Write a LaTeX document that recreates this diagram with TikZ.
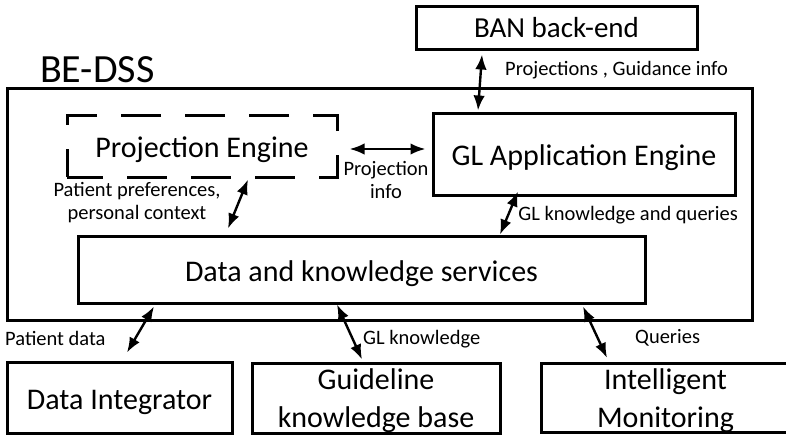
\documentclass[tikz,border=0pt]{standalone}
\usepackage{fontspec}
\setmainfont{Carlito}
\usetikzlibrary{arrows.meta,calc}
\begin{document}
\begin{tikzpicture}[x=1pt,y=-1pt,
  box/.style={draw,line width=3pt,inner sep=0pt,align=center,font=\fontsize{30}{37}\selectfont,text height=23pt,text depth=0pt},
  twobox/.style={draw,line width=3pt,inner sep=0pt,align=center,font=\fontsize{30}{38}\selectfont},
  lbl/.style={inner sep=0pt,align=center,font=\fontsize{20.5}{23}\selectfont},
  biarrow/.style={line width=2.4pt,{Latex[length=15pt,width=11.5pt]}-{Latex[length=15pt,width=11.5pt]}}
]
\useasboundingbox (0,0) rectangle (786,434);
\node[box,minimum width=281pt,minimum height=43pt,font=\fontsize{29}{34}\selectfont,text height=19pt] (ban) at (556.5,27.5) {BAN back-end};
\node[anchor=base west,inner sep=0pt,font=\fontsize{40}{48}\selectfont] (title) at (40,82) {BE-DSS};
\node[box,minimum width=745pt,minimum height=232pt] (bedss) at (379.5,204) {};
\node[box,dash pattern=on 40pt off 24pt,dash phase=4pt,minimum width=270pt,minimum height=62pt] (pe) at (202,146) {Projection Engine};
\node[box,minimum width=302pt,minimum height=82pt] (glae) at (584,154) {GL Application Engine};
\node[box,minimum width=567pt,minimum height=67pt] (dks) at (361.5,269.5) {Data and knowledge services};
\node[box,minimum width=225pt,minimum height=71pt] (di) at (119.5,397.5) {Data Integrator};
\node[twobox,minimum width=248pt,minimum height=65pt] (gkb) at (376,398.5) {\rule{0pt}{26pt}Guideline\\knowledge base};
\node[twobox,minimum width=249pt,minimum height=64pt] (im) at (665.5,398) {\rule{0pt}{26pt}Intelligent\\Monitoring};

\draw[biarrow] ($(ban.south)+(-74.5,4)$) -- ($(glae.north)+(-106,-1)$);
\draw[biarrow] ($(pe.east)+(11,3)$) -- ($(glae.west)+(-6,-5)$);
\draw[biarrow] ($(pe.south)+(46,1)$) -- ($(dks.north)+(-133.5,-6)$);
\draw[biarrow] ($(glae.south)+(-66,-5)$) -- ($(dks.north)+(138.5,0)$);
\draw[biarrow] ($(dks.south)+(-207.5,2)$) -- ($(di.north)+(7.5,-8)$);
\draw[biarrow] ($(dks.south)+(-24.5,0)$) -- ($(gkb.north)+(-14,-3)$);
\draw[biarrow] ($(dks.south)+(221.5,2)$) -- ($(im.north)+(-58.5,-4)$);

\node[lbl,anchor=west] (l1) at (505,70) {Projections , Guidance info};
\node[lbl] (l2) at (386,180) {Projection\\info};
\node[lbl] (l3) at (137,203) {Patient preferences,\\personal context};
\node[lbl,anchor=east] (l4) at (738,215) {GL knowledge and queries};
\node[lbl,anchor=west] (l5) at (5,338) {Patient data};
\node[lbl,anchor=west] (l6) at (363,339) {GL knowledge};
\node[lbl,anchor=west] (l7) at (635,338) {Queries};
\end{tikzpicture}
\end{document}
